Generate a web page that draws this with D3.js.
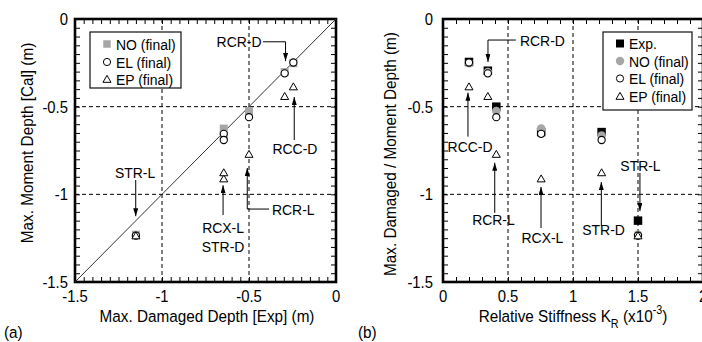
<!DOCTYPE html>
<html>
<head>
<meta charset="utf-8">
<script src="https://cdn.jsdelivr.net/npm/d3@7"></script>
<style>
  body { margin: 0; background: #fff; }
  svg { display: block; }
  text { font-family: "Liberation Sans", Arial, sans-serif; fill: #000; }
</style>
</head>
<body>
<svg id="chart" width="702" height="342"></svg>
<script>
// cases, in the order used everywhere below
const cases     = ["RCC-D", "RCR-D", "RCR-L", "RCX-L", "STR-D", "STR-L"];
const stiffness = [0.2, 0.345, 0.41, 0.755, 1.22, 1.5];        // K_R (x10^-3)
const expDepth  = [-0.245, -0.295, -0.5, -0.645, -0.645, -1.15]; // damaged depth (exp)
const noDepth   = [-0.252, -0.303, -0.525, -0.625, -0.665, -1.23];
const elDepth   = [-0.248, -0.31, -0.56, -0.655, -0.69, -1.235];
const epDepth   = [-0.385, -0.44, -0.77, -0.91, -0.875, -1.235];

const depthTicks = [0, -0.5, -1, -1.5];
const expTicks   = [-1.5, -1, -0.5, 0];
const stiffTicks = [0, 0.5, 1, 1.5, 2];

// arrows: path in data units, label position in data units
const leftNotes = [
  {label: ["RCR-D"], tx: -0.428, ty: -0.13, anchor: "end", path: [[-0.42, -0.13], [-0.29, -0.13], [-0.29, -0.24]]},
  {label: ["RCC-D"], tx: -0.236, ty: -0.736, anchor: "middle", path: [[-0.24, -0.69], [-0.24, -0.445]]},
  {label: ["STR-L"], tx: -1.155, ty: -0.873, anchor: "middle", path: [[-1.151, -0.918], [-1.151, -1.125]]},
  {label: ["RCX-L", "STR-D"], tx: -0.649, ty: -1.192, anchor: "middle", path: [[-0.649, -1.118], [-0.649, -0.948]]},
  {label: ["RCR-L"], tx: -0.368, ty: -1.084, anchor: "start", path: [[-0.385, -1.084], [-0.51, -1.084], [-0.51, -0.85]]}
];
const rightNotes = [
  {label: ["RCR-D"], tx: 0.592, ty: -0.12, anchor: "start", path: [[0.56, -0.12], [0.346, -0.12], [0.346, -0.245]]},
  {label: ["RCC-D"], tx: 0.208, ty: -0.728, anchor: "middle", path: [[0.192, -0.671], [0.192, -0.42]]},
  {label: ["RCR-L"], tx: 0.388, ty: -1.146, anchor: "middle", path: [[0.398, -1.106], [0.398, -0.82]]},
  {label: ["RCX-L"], tx: 0.765, ty: -1.249, anchor: "middle", path: [[0.754, -1.192], [0.754, -0.958]]},
  {label: ["STR-D"], tx: 1.235, ty: -1.198, anchor: "middle", path: [[1.218, -1.18], [1.218, -0.93]]},
  {label: ["STR-L"], tx: 1.519, ty: -0.833, anchor: "middle", path: [[1.515, -0.878], [1.515, -1.095]]}
];

const svg = d3.select("#chart");
const SX = 0.9; // narrow face

svg.append("defs").append("marker")
  .attr("id", "arrow")
  .attr("viewBox", "0 0 8 5")
  .attr("refX", 8).attr("refY", 2.5)
  .attr("markerWidth", 8).attr("markerHeight", 5)
  .attr("markerUnits", "userSpaceOnUse")
  .attr("orient", "auto")
  .append("path").attr("d", "M0,0L8,2.5L0,5Z").attr("fill", "#000");

function label(g, x, y, s, size, anchor) {
  return g.append("text")
    .attr("transform", `translate(${x},${y}) scale(${SX},1)`)
    .attr("text-anchor", anchor || "start")
    .attr("font-size", size)
    .text(s);
}

function frame(g, x, y, xMinor, yMinor, xGrid, yGrid, xLabPad, yLabPad) {
  const [x0, x1] = x.range(), [y0, y1] = y.range();
  const fmt = d => d === 0 ? "0" : String(d);

  // dashed grid
  g.selectAll(".gx").data(xGrid).join("line")
    .attr("x1", d => x(d)).attr("x2", d => x(d)).attr("y1", y0).attr("y2", y1)
    .attr("stroke", "#000").attr("stroke-dasharray", "4,3");
  g.selectAll(".gy").data(yGrid).join("line")
    .attr("y1", d => y(d)).attr("y2", d => y(d)).attr("x1", x0).attr("x2", x1)
    .attr("stroke", "#000").attr("stroke-dasharray", "4,3");

  // inward minor ticks on all four sides
  const sides = [
    [d3.axisBottom(x).tickValues(xMinor), `translate(0,${y0})`],
    [d3.axisTop(x).tickValues(xMinor), `translate(0,${y1})`],
    [d3.axisLeft(y).tickValues(yMinor), `translate(${x0},0)`],
    [d3.axisRight(y).tickValues(yMinor), `translate(${x1},0)`]
  ];
  sides.forEach(([ax, tr]) => {
    const a = g.append("g").attr("transform", tr)
      .call(ax.tickSizeInner(-5).tickSizeOuter(0).tickFormat(""));
    a.select(".domain").remove();
    a.selectAll("line").attr("stroke", "#000");
  });

  g.append("rect")
    .attr("x", x0).attr("y", y1).attr("width", x1 - x0).attr("height", y0 - y1)
    .attr("fill", "none").attr("stroke", "#000").attr("stroke-width", 2.6);
}

function tickLabels(g, x, y, xTicks, yTicks, yPad) {
  const [x0] = x.range(), [y0] = y.range();
  xTicks.forEach(d => label(g, x(d), y0 + 20, d === 0 ? "0" : String(d), 16.5, "middle"));
  yTicks.forEach(d => label(g, x0 - yPad, y(d) + 6, d === 0 ? "0" : String(d), 16.5, "end"));
}

function notes(g, x, y, list) {
  const line = d3.line().x(d => x(d[0])).y(d => y(d[1]));
  list.forEach(n => {
    g.append("path").attr("d", line(n.path))
      .attr("fill", "none").attr("stroke", "#000").attr("stroke-width", 1)
      .attr("marker-end", "url(#arrow)");
    n.label.forEach((s, i) => label(g, x(n.tx), y(n.ty) + 5.5 + i * 19, s, 15.5, n.anchor));
  });
}

const sq = d3.symbol().type(d3.symbolSquare);
const tri = d3.symbol().type(d3.symbolTriangle).size(28);

function squares(g, xs, ys, fill, size) {
  g.selectAll(null).data(xs).join("path")
    .attr("transform", (d, i) => `translate(${d},${ys[i]})`)
    .attr("d", sq.size(size)()).attr("fill", fill);
}
function circles(g, xs, ys, fill, stroke, r) {
  g.selectAll(null).data(xs).join("circle")
    .attr("cx", d => d).attr("cy", (d, i) => ys[i]).attr("r", r)
    .attr("fill", fill).attr("stroke", stroke).attr("stroke-width", stroke === "none" ? 0 : 1.1);
}
function triangles(g, xs, ys) {
  g.selectAll(null).data(xs).join("path")
    .attr("transform", (d, i) => `translate(${d},${ys[i] + 1})`)
    .attr("d", tri()).attr("fill", "#fff").attr("stroke", "#000").attr("stroke-width", 1);
}

// ---------- (a) ----------
const xA = d3.scaleLinear().domain([-1.5, 0]).range([75, 336]);
const yA = d3.scaleLinear().domain([-1.5, 0]).range([282, 19]);
const gA = svg.append("g");

frame(gA, xA, yA, d3.range(-1.5, 0.001, 0.05), d3.range(-1.5, 0.001, 0.05), [-1, -0.5], [-1, -0.5]);
gA.append("line")
  .attr("x1", xA(-1.5)).attr("y1", yA(-1.5)).attr("x2", xA(0)).attr("y2", yA(0))
  .attr("stroke", "#333").attr("stroke-width", 1);

const ptsA = gA.append("g");
squares(ptsA.append("g"), expDepth.map(xA), noDepth.map(yA), "#a6a6a6", 64);
circles(ptsA.append("g"), expDepth.map(xA), elDepth.map(yA), "#fff", "#000", 3.6);
triangles(ptsA.append("g"), expDepth.map(xA), epDepth.map(yA));

notes(gA, xA, yA, leftNotes);
tickLabels(gA, xA, yA, expTicks, depthTicks, 7);

label(svg, 207, 322, "Max. Damaged Depth [Exp] (m)", 17, "middle");
svg.append("text")
  .attr("transform", `translate(33,143) rotate(-90) scale(${SX},1)`)
  .attr("text-anchor", "middle").attr("font-size", 17)
  .text("Max. Moment Depth [Cal] (m)");
label(svg, 4, 338, "(a)", 17, "start");

// legend (a)
const legA = svg.append("g");
legA.append("rect").attr("x", 90).attr("y", 32).attr("width", 91).attr("height", 56)
  .attr("fill", "#fff").attr("stroke", "#222").attr("stroke-width", 1.3);
const legAY = [44, 62, 79];
legA.append("path").attr("transform", `translate(107,${legAY[0]})`).attr("d", sq.size(56)()).attr("fill", "#a6a6a6");
legA.append("circle").attr("cx", 107).attr("cy", legAY[1]).attr("r", 3.6).attr("fill", "#fff").attr("stroke", "#000");
legA.append("path").attr("transform", `translate(107,${legAY[2] + 1})`).attr("d", tri()).attr("fill", "#fff").attr("stroke", "#000");
["NO (final)", "EL (final)", "EP (final)"].forEach((s, i) => label(legA, 116, legAY[i] + 5.5, s, 15.5, "start"));

// ---------- (b) ----------
const xB = d3.scaleLinear().domain([0, 2]).range([443, 703]);
const yB = d3.scaleLinear().domain([-1.5, 0]).range([282, 19]);
const gB = svg.append("g");

frame(gB, xB, yB, d3.range(0, 2.001, 0.1), d3.range(-1.5, 0.001, 0.05), [0.5, 1, 1.5], [-1, -0.5]);

const ptsB = gB.append("g");
squares(ptsB.append("g"), stiffness.map(xB), expDepth.map(yB), "#000", 72);
circles(ptsB.append("g"), stiffness.map(xB), noDepth.map(yB), "#a6a6a6", "none", 4.3);
circles(ptsB.append("g"), stiffness.map(xB), elDepth.map(yB), "#fff", "#000", 3.6);
triangles(ptsB.append("g"), stiffness.map(xB), epDepth.map(yB));

notes(gB, xB, yB, rightNotes);
tickLabels(gB, xB, yB, stiffTicks, depthTicks, 10);

const xl = svg.append("text")
  .attr("transform", `translate(573,322) scale(${SX},1)`)
  .attr("text-anchor", "middle").attr("font-size", 17);
xl.append("tspan").text("Relative Stiffness K");
xl.append("tspan").attr("font-size", 12).attr("dy", 6).text("R");
xl.append("tspan").attr("dy", -6).text(" (x10");
xl.append("tspan").attr("font-size", 12).attr("dy", -8).text("-3");
xl.append("tspan").attr("dy", 8).text(")");

svg.append("text")
  .attr("transform", `translate(396,154) rotate(-90) scale(${SX},1)`)
  .attr("text-anchor", "middle").attr("font-size", 17)
  .text("Max. Damaged / Moment Depth (m)");
label(svg, 358, 338, "(b)", 17, "start");

// legend (b)
const legB = svg.append("g");
legB.append("rect").attr("x", 603).attr("y", 32).attr("width", 89).attr("height", 78)
  .attr("fill", "#fff").attr("stroke", "#222").attr("stroke-width", 1.3);
const legBY = [43.5, 61, 78.5, 96];
legB.append("path").attr("transform", `translate(620,${legBY[0]})`).attr("d", sq.size(64)()).attr("fill", "#000");
legB.append("circle").attr("cx", 620).attr("cy", legBY[1]).attr("r", 4.2).attr("fill", "#a6a6a6");
legB.append("circle").attr("cx", 620).attr("cy", legBY[2]).attr("r", 3.6).attr("fill", "#fff").attr("stroke", "#000");
legB.append("path").attr("transform", `translate(620,${legBY[3] + 1})`).attr("d", tri()).attr("fill", "#fff").attr("stroke", "#000");
["Exp.", "NO (final)", "EL (final)", "EP (final)"].forEach((s, i) => label(legB, 629, legBY[i] + 5.5, s, 15.5, "start"));
</script>
</body>
</html>
